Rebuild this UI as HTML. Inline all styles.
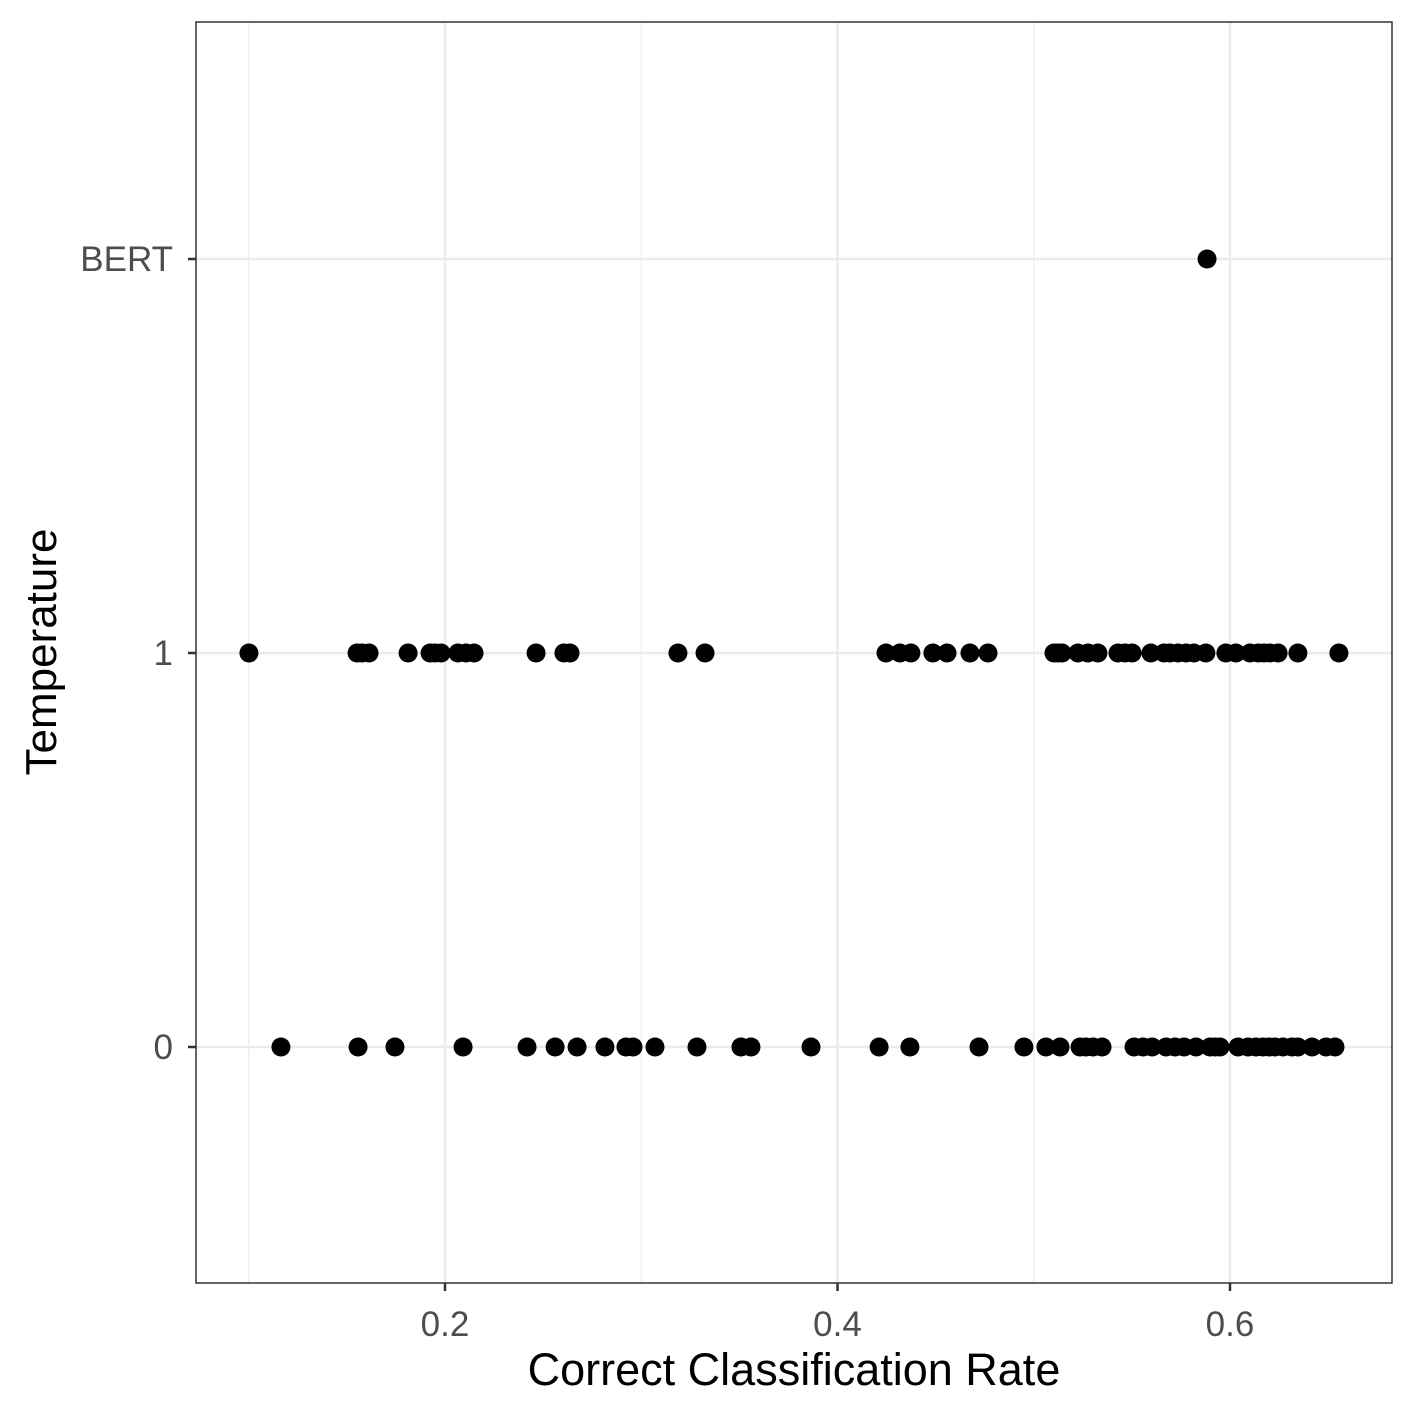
<!DOCTYPE html>
<html><head><meta charset="utf-8"><style>
html,body{margin:0;padding:0;background:#fff}
svg text{font-family:"Liberation Sans",Arial,sans-serif}
</style></head><body>
<svg id="chart" width="1417" height="1417" xmlns="http://www.w3.org/2000/svg">
<rect width="1417" height="1417" fill="#fff"/>
<g id="grid"></g>
<g id="points"></g>
<rect x="196" y="22" width="1196" height="1261" fill="none" stroke="#333" stroke-width="1.5"/>
<g id="axes"></g>
<text x="794" y="1385" font-size="45" text-anchor="middle" fill="#000">Correct Classification Rate</text>
<text transform="translate(56,652) rotate(-90)" font-size="44" text-anchor="middle" fill="#000">Temperature</text>
</svg>
<script>
const categories = ["0", "1", "BERT"];
const xTicks = [0.2, 0.4, 0.6];
const xTickLabels = ["0.2", "0.4", "0.6"];
const xMinor = [0.1, 0.3, 0.5];
const temp0Values = [0.1164,0.1557,0.1745,0.2092,0.2418,0.2561,0.2673,0.2815,0.2922,0.2958,0.3070,0.3284,0.3508,0.3559,0.3865,0.4212,0.4369,0.4721,0.4950,0.5062,0.5134,0.5236,0.5266,0.5302,0.5348,0.5511,0.5557,0.5603,0.5674,0.5720,0.5766,0.5827,0.5898,0.5924,0.5949,0.6041,0.6092,0.6132,0.6168,0.6199,0.6229,0.6270,0.6316,0.6346,0.6418,0.6489,0.6535];
const temp1Values = [0.1001,0.1552,0.1577,0.1613,0.1812,0.1924,0.1949,0.1980,0.2066,0.2107,0.2148,0.2464,0.2606,0.2637,0.3187,0.3325,0.4247,0.4318,0.4374,0.4486,0.4558,0.4675,0.4767,0.5103,0.5124,0.5144,0.5225,0.5276,0.5327,0.5429,0.5465,0.5501,0.5597,0.5664,0.5694,0.5735,0.5776,0.5816,0.5877,0.5979,0.6030,0.6102,0.6143,0.6173,0.6204,0.6245,0.6346,0.6555];
const bertValues = [0.5883];

const NS = "http://www.w3.org/2000/svg";
function xs(v){ return 52.5 + v * 1962.5; }
function ys(i){ return 1047 - i * 394; }
function mk(tag, attrs, parent){ const e=document.createElementNS(NS,tag); for(const k in attrs) e.setAttribute(k,attrs[k]); parent.appendChild(e); return e; }
const grid=document.getElementById('grid'), pts=document.getElementById('points'), axes=document.getElementById('axes');
xMinor.forEach(v=>{
  const l=mk('line',{x1:xs(v),x2:xs(v),y1:22,y2:1283,stroke:'#ebebeb','stroke-width':1.2},grid);
  
  
});
xTicks.forEach((v,i)=>{
  const l=mk('line',{x1:xs(v),x2:xs(v),y1:22,y2:1283,stroke:'#ebebeb','stroke-width':2.5},grid);
  
  
  const t=mk('line',{x1:xs(v),x2:xs(v),y1:1283,y2:1291,stroke:'#333','stroke-width':2.5},axes);
  
  
  const tx=mk('text',{x:xs(v),y:1336,'font-size':35,'text-anchor':'middle',fill:'#4d4d4d'},axes);
  tx.textContent=xTickLabels[i];
  
  
});
categories.forEach((c,i)=>{
  const l=mk('line',{x1:196,x2:1392,y1:ys(i),y2:ys(i),stroke:'#ebebeb','stroke-width':2.5},grid);
  
  
  const t=mk('line',{x1:188,x2:196,y1:ys(i),y2:ys(i),stroke:'#333','stroke-width':2.5},axes);
  
  
  const tx=mk('text',{x:173,y:ys(i)+12,'font-size':35,'text-anchor':'end',fill:'#4d4d4d'},axes);
  tx.textContent=c;
  
  
});
[temp0Values,temp1Values,bertValues].forEach((arr,i)=>{
  arr.forEach(v=>{
    const c=mk('circle',{cx:xs(v),cy:ys(i),r:9.5,fill:'#000'},pts);
    
    
  });
});
</script>
</body></html>
